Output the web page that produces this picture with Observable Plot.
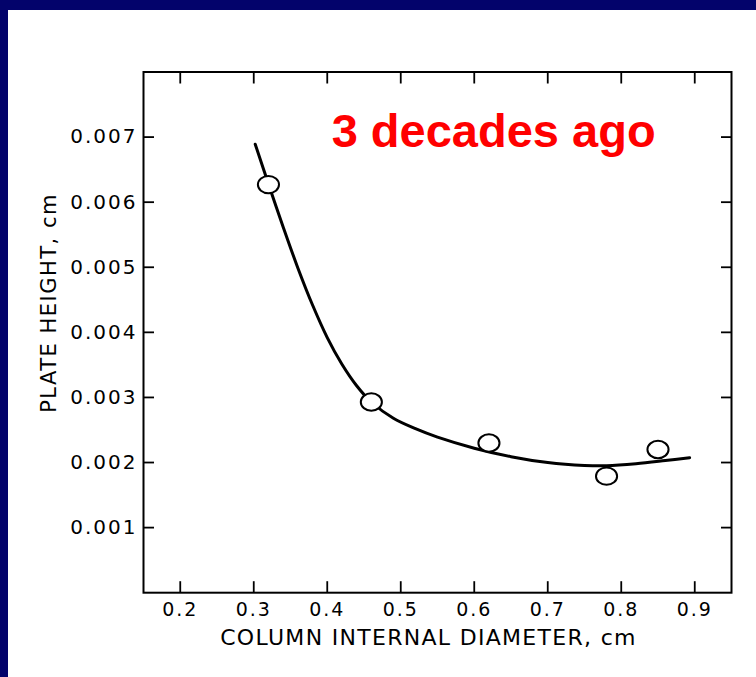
<!DOCTYPE html>
<html>
<head>
<meta charset="utf-8">
<script src="https://cdn.jsdelivr.net/npm/d3@7"></script>
<script src="https://cdn.jsdelivr.net/npm/@observablehq/plot@0.6"></script>
<style>
  html, body { margin: 0; padding: 0; background: #03036b; width: 756px; height: 677px; overflow: hidden; }
  #chart { position: absolute; left: 8px; top: 10px; width: 748px; height: 667px; background: #ffffff; }
</style>
</head>
<body>
<div id="chart"></div>
<script>
// Measured points (open circles)
const diameter = [0.32, 0.46, 0.62, 0.78, 0.85];
const plateHeight = [0.00627, 0.00293, 0.00230, 0.00179, 0.00220];

// Hand-drawn fitted curve
const fitDiameter = [0.302, 0.320, 0.340, 0.360, 0.380, 0.400, 0.420, 0.440, 0.460, 0.490, 0.520, 0.550, 0.600, 0.650, 0.700, 0.750, 0.780, 0.820, 0.860, 0.893];
const fitHeight   = [0.00689, 0.00628, 0.00562, 0.00499, 0.00442, 0.00392, 0.00351, 0.00318, 0.00293, 0.00268, 0.00252, 0.00239, 0.00222, 0.00209, 0.00200, 0.001955, 0.00195, 0.00198, 0.00203, 0.002075];

// Tick values
const xTicks = [0.2, 0.3, 0.4, 0.5, 0.6, 0.7, 0.8, 0.9];
const yTicks = [0.001, 0.002, 0.003, 0.004, 0.005, 0.006, 0.007];
const xTickLabels = ["0.2", "0.3", "0.4", "0.5", "0.6", "0.7", "0.8", "0.9"];
const yTickLabels = ["0.001", "0.002", "0.003", "0.004", "0.005", "0.006", "0.007"];

// Titles and annotation
const xTitle = "COLUMN INTERNAL DIAMETER, cm";
const yTitle = "PLATE HEIGHT, cm";
const noteText = ["3 decades ago"];
const noteX = [0.406];
const noteY = [0.00708];

const points = diameter.map((d, i) => ({x: d, y: plateHeight[i]}));
const fit = fitDiameter.map((d, i) => ({x: d, y: fitHeight[i]}));
const notes = noteText.map((t, i) => ({x: noteX[i], y: noteY[i], text: t}));

// slightly flattened open circle
const ellipse = {
  draw(context, size) {
    const r = Math.sqrt(size / Math.PI);
    const rx = r * 1.1, ry = r * 0.9, k = 0.5523;
    context.moveTo(rx, 0);
    context.bezierCurveTo(rx, ry * k, rx * k, ry, 0, ry);
    context.bezierCurveTo(-rx * k, ry, -rx, ry * k, -rx, 0);
    context.bezierCurveTo(-rx, -ry * k, -rx * k, -ry, 0, -ry);
    context.bezierCurveTo(rx * k, -ry, rx, -ry * k, rx, 0);
    context.closePath();
  }
};

const xFmt = d => xTickLabels[xTicks.indexOf(d)] ?? "";
const yFmt = d => yTickLabels[yTicks.indexOf(d)] ?? "";

const chart = Plot.plot({
  width: 748,
  height: 667,
  marginLeft: 135,
  marginRight: 25,
  marginTop: 61.5,
  marginBottom: 84.8,
  style: {fontFamily: "DejaVu Sans, sans-serif", fontSize: "20px", color: "#000", background: "#fff", overflow: "visible"},
  x: {domain: [0.15, 0.95]},
  y: {domain: [0, 0.008]},
  marks: [
    Plot.frame({stroke: "#000", strokeWidth: 2}),
    Plot.axisX(xTicks, {anchor: "bottom", tickSize: -11, tickPadding: 21, tickFormat: xFmt, fontSize: 18, strokeWidth: 1.8, label: null}),
    Plot.axisX(xTicks, {anchor: "top", tickSize: -11, tickFormat: () => "", strokeWidth: 1.8, label: null}),
    Plot.axisY(yTicks, {anchor: "left", tickSize: -11, tickPadding: 17, tickFormat: yFmt, fontSize: 20, strokeWidth: 1.8, label: null}),
    Plot.axisY(yTicks, {anchor: "right", tickSize: -11, tickFormat: () => "", strokeWidth: 1.8, label: null}),
    Plot.line(fit, {x: "x", y: "y", curve: "catmull-rom", stroke: "#000", strokeWidth: 3}),
    Plot.dot(points, {x: "x", y: "y", r: 9.6, symbol: ellipse, fill: "#fff", stroke: "#000", strokeWidth: 2}),
    Plot.text(notes, {x: "x", y: "y", text: "text", fill: "#ff0000", fontSize: 47, fontWeight: "bold",
      fontFamily: "Liberation Sans, Arial, sans-serif", textAnchor: "start", lineAnchor: "middle"}),
    Plot.text([xTitle], {frameAnchor: "bottom", text: d => d, dx: -9, dy: 45.3, fontSize: 22,
      textAnchor: "middle", lineAnchor: "middle", fill: "#000"}),
    Plot.text([yTitle], {frameAnchor: "left", text: d => d, rotate: -90, dx: -94.7, dy: -29.4, fontSize: 21,
      textAnchor: "middle", lineAnchor: "middle", fill: "#000"})
  ]
});

// letter spacing / size to mimic the wide lettering of the original figure
d3.select(chart).selectAll("text").each(function () {
  const t = this.textContent;
  if (yTickLabels.includes(t)) { this.style.letterSpacing = "2px"; this.style.fontSize = "20px"; }
  else if (xTickLabels.includes(t)) { this.style.letterSpacing = "2px"; this.style.fontSize = "19px"; }
  else if (t === xTitle) this.style.letterSpacing = "1.3px";
  else if (t === yTitle) this.style.letterSpacing = "1.5px";
});

document.getElementById("chart").appendChild(chart);
</script>
</body>
</html>
